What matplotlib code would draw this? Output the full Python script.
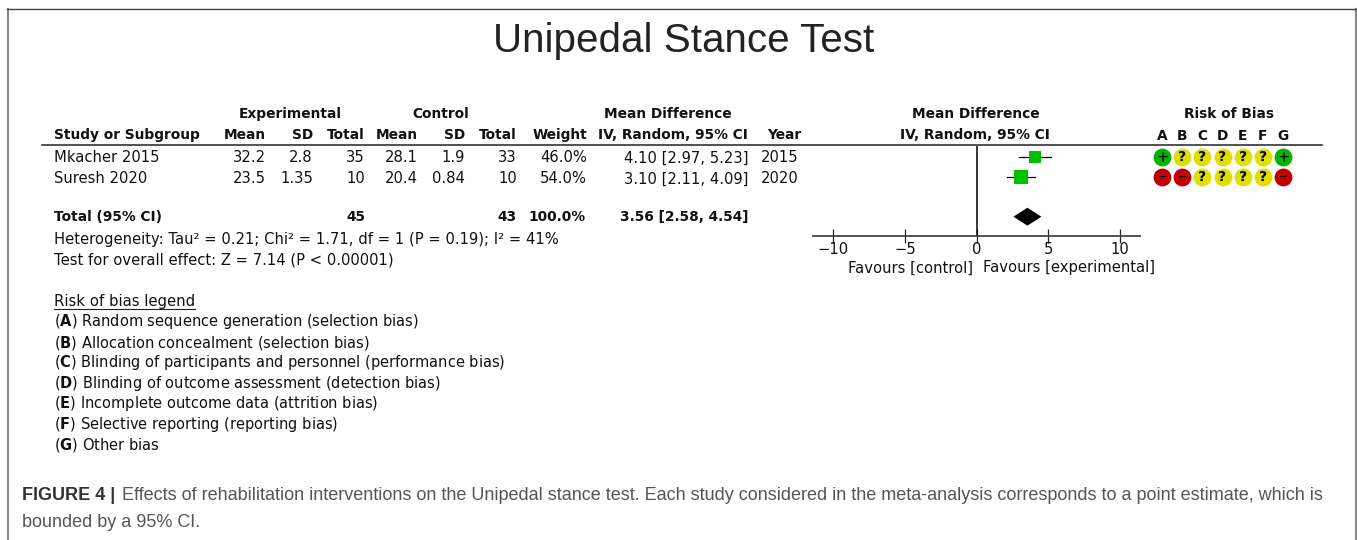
import matplotlib
matplotlib.use('Agg')
import matplotlib.pyplot as plt
from matplotlib.patches import Polygon

W, H = 1357, 540
MAIN_FONT = 'DejaVu Sans'
CAP_FONT = 'Liberation Sans'

title = 'Unipedal Stance Test'

studies = ['Mkacher 2015', 'Suresh 2020']
exp_mean = ['32.2', '23.5']
exp_sd = ['2.8', '1.35']
exp_total = ['35', '10']
ctl_mean = ['28.1', '20.4']
ctl_sd = ['1.9', '0.84']
ctl_total = ['33', '10']
weights = [46.0, 54.0]
md = [4.10, 3.10]
ci_low = [2.97, 2.11]
ci_high = [5.23, 4.09]
years = ['2015', '2020']

total_exp = '45'
total_ctl = '43'
total_md = 3.56
total_low = 2.58
total_high = 4.54

rob_cols = ['A', 'B', 'C', 'D', 'E', 'F', 'G']
rob = [['+', '?', '?', '?', '?', '?', '+'],
       ['-', '-', '?', '?', '?', '?', '-']]
rob_colors = {'+': '#00b400', '?': '#e0e000', '-': '#c00000'}

x_ticks = [-10, -5, 0, 5, 10]

het_line = 'Heterogeneity: Tau² = 0.21; Chi² = 1.71, df = 1 (P = 0.19); I² = 41%'
test_line = 'Test for overall effect: Z = 7.14 (P < 0.00001)'

legend_title = 'Risk of bias legend'
legend_items = ['Random sequence generation (selection bias)',
                'Allocation concealment (selection bias)',
                'Blinding of participants and personnel (performance bias)',
                'Blinding of outcome assessment (detection bias)',
                'Incomplete outcome data (attrition bias)',
                'Selective reporting (reporting bias)',
                'Other bias']

caption_bold = 'FIGURE 4 | '
caption_1 = ('Effects of rehabilitation interventions on the Unipedal stance test. '
             'Each study considered in the meta-analysis corresponds to a point estimate, which is')
caption_2 = 'bounded by a 95% CI.'

FS = 10.6
FS_BOLD = 9.9
CAP_FS = 12.98


def px_axes(fig, left, top, right, bottom):
    return fig.add_axes([left / W, 1 - bottom / H, (right - left) / W, (bottom - top) / H])


fig = plt.figure(figsize=(W / 100, H / 100), dpi=100)
bg = fig.add_axes([0, 0, 1, 1])
bg.set_xlim(0, W)
bg.set_ylim(H, 0)
bg.axis('off')

# outer frame
bg.plot([8, 8], [H, 8.5], color='#888888', lw=1.5)
bg.plot([1355.5, 1355.5], [H, 8.5], color='#888888', lw=1.5)
bg.plot([7, 1356], [8.5, 8.5], color='#444444', lw=1.0)

bg.text(683.5, 52.5, title, family=CAP_FONT, fontsize=29.1, ha='center', va='baseline', color='#222222')


def txt(x, y, s, ha='left', bold=False, size=None):
    # y is the middle of the digits; snap the baseline so a row does not jitter by a pixel
    fs = size or (FS_BOLD if bold else FS)
    return bg.text(x, int(y + 4.5) + 0.3, s, family=MAIN_FONT, fontsize=fs, ha=ha,
                   va='baseline', color='#111111', fontweight='bold' if bold else 'normal')


# table headers
txt(290, 114, 'Experimental', 'center', True)
txt(441, 114, 'Control', 'center', True)
txt(668, 114, 'Mean Difference', 'center', True)
txt(976, 114, 'Mean Difference', 'center', True)
txt(1229, 114, 'Risk of Bias', 'center', True)

txt(54, 135, 'Study or Subgroup', 'left', True)
col_right = [266, 313, 365, 418, 465, 517, 587]
col_head = ['Mean', 'SD', 'Total', 'Mean', 'SD', 'Total', 'Weight']
for x, s in zip(col_right, col_head):
    txt(x, 135, s, 'right', True)
txt(748, 135, 'IV, Random, 95% CI', 'right', True)
txt(801, 135, 'Year', 'right', True)
txt(1050, 135, 'IV, Random, 95% CI', 'right', True)

bg.plot([42, 1322], [145, 145], color='#333333', lw=1.2)

# study rows
row_y = [158, 178.5]
for i, y in enumerate(row_y):
    txt(54, y, studies[i])
    cols = [exp_mean[i], exp_sd[i], exp_total[i], ctl_mean[i], ctl_sd[i], ctl_total[i],
            '%.1f%%' % weights[i]]
    for x, s in zip(col_right, cols):
        txt(x, y, s, 'right')
    txt(748, y, '%.2f [%.2f, %.2f]' % (md[i], ci_low[i], ci_high[i]), 'right')
    txt(799, y, years[i], 'right')

# total row
txt(54, 216.5, 'Total (95% CI)', 'left', True)
txt(365, 216.5, total_exp, 'right', True)
txt(517, 216.5, total_ctl, 'right', True)
txt(586, 216.5, '100.0%', 'right', True)
txt(748, 216.5, '%.2f [%.2f, %.2f]' % (total_md, total_low, total_high), 'right', True)

txt(54, 239.5, het_line)
txt(54, 259.5, test_line)

# forest plot
ax = px_axes(fig, 813, 146, 1140, 236.5)
ax.patch.set_alpha(0)
ax.set_xlim(-11.43, 11.43)
ax.set_ylim(3.995, -0.553)
for s in ['top', 'left', 'right']:
    ax.spines[s].set_visible(False)
ax.spines['bottom'].set_color('#444444')
ax.spines['bottom'].set_linewidth(1.3)
ax.set_yticks([])
ax.set_xticks(x_ticks)
ax.set_xticklabels(['−10', '−5', '0', '5', '10'], family=MAIN_FONT, fontsize=FS, color='#111111')
ax.tick_params(axis='x', direction='inout', length=10, width=0.9, color='#222222', pad=-1)
ax.axvline(0, color='black', lw=1.1)
for i in range(len(md)):
    ax.plot([ci_low[i], ci_high[i]], [i, i], color='black', lw=0.9)
    ax.plot(md[i], i, 's', color='#00c000', ms=(weights[i] ** 0.5) * 1.3, mew=0)
ax.add_patch(Polygon([(total_low, 3), (total_md, 2.55), (total_high, 3), (total_md, 3.45)],
                     closed=True, facecolor='black', edgecolor='none'))

txt(973, 267.5, 'Favours [control]', 'right')
txt(983, 267.5, 'Favours [experimental]', 'left')

# risk of bias dots
rax = px_axes(fig, 1152, 146, 1293, 236.5)
rax.patch.set_alpha(0)
rax.set_xlim(-0.5, 6.5)
rax.set_ylim(3.995, -0.553)
rax.axis('off')
for j, c in enumerate(rob_cols):
    rax.text(j, -1.08, c, family=MAIN_FONT, fontsize=FS_BOLD, fontweight='bold', ha='center',
             va='center', color='#111111', clip_on=False)
for i, row in enumerate(rob):
    for j, v in enumerate(row):
        rax.scatter(j, i, s=165, color=rob_colors[v], linewidths=0, zorder=2)
        if v == '?':
            rax.text(j, i, '?', family=MAIN_FONT, fontsize=10, ha='center', va='center',
                     color='black', fontweight='bold', zorder=3)
        elif v == '+':
            rax.text(j + 0.05, i + 0.05, '+', family=MAIN_FONT, fontsize=FS, ha='center', va='center',
                     color='black', zorder=3)
        else:
            rax.text(j, i, '−', family=MAIN_FONT, fontsize=8, ha='center', va='center',
                     color='black', zorder=3)

# legend
txt(54, 302, legend_title, size=10.75)
bg.plot([54, 195], [309, 309], color='#222222', lw=0.8)
legend_y = [322, 343, 363, 383.5, 404, 424.5, 445]
for c, s, y in zip(rob_cols, legend_items, legend_y):
    txt(54, y, '(' + r'$\mathbf{' + c + '}$' + ') ' + s, size=10.55)

# caption
fig.canvas.draw()
rend = fig.canvas.get_renderer()
t = bg.text(22, 500, caption_bold, family=CAP_FONT, fontsize=CAP_FS, fontweight='bold',
            va='baseline', color='#333333')
bb = t.get_window_extent(rend)
bg.text(bb.x1 + 2, 500, caption_1, family=CAP_FONT, fontsize=CAP_FS, va='baseline', color='#555555')
bg.text(22, 527, caption_2, family=CAP_FONT, fontsize=CAP_FS, va='baseline', color='#555555')

fig.savefig('out.png', dpi=100)
